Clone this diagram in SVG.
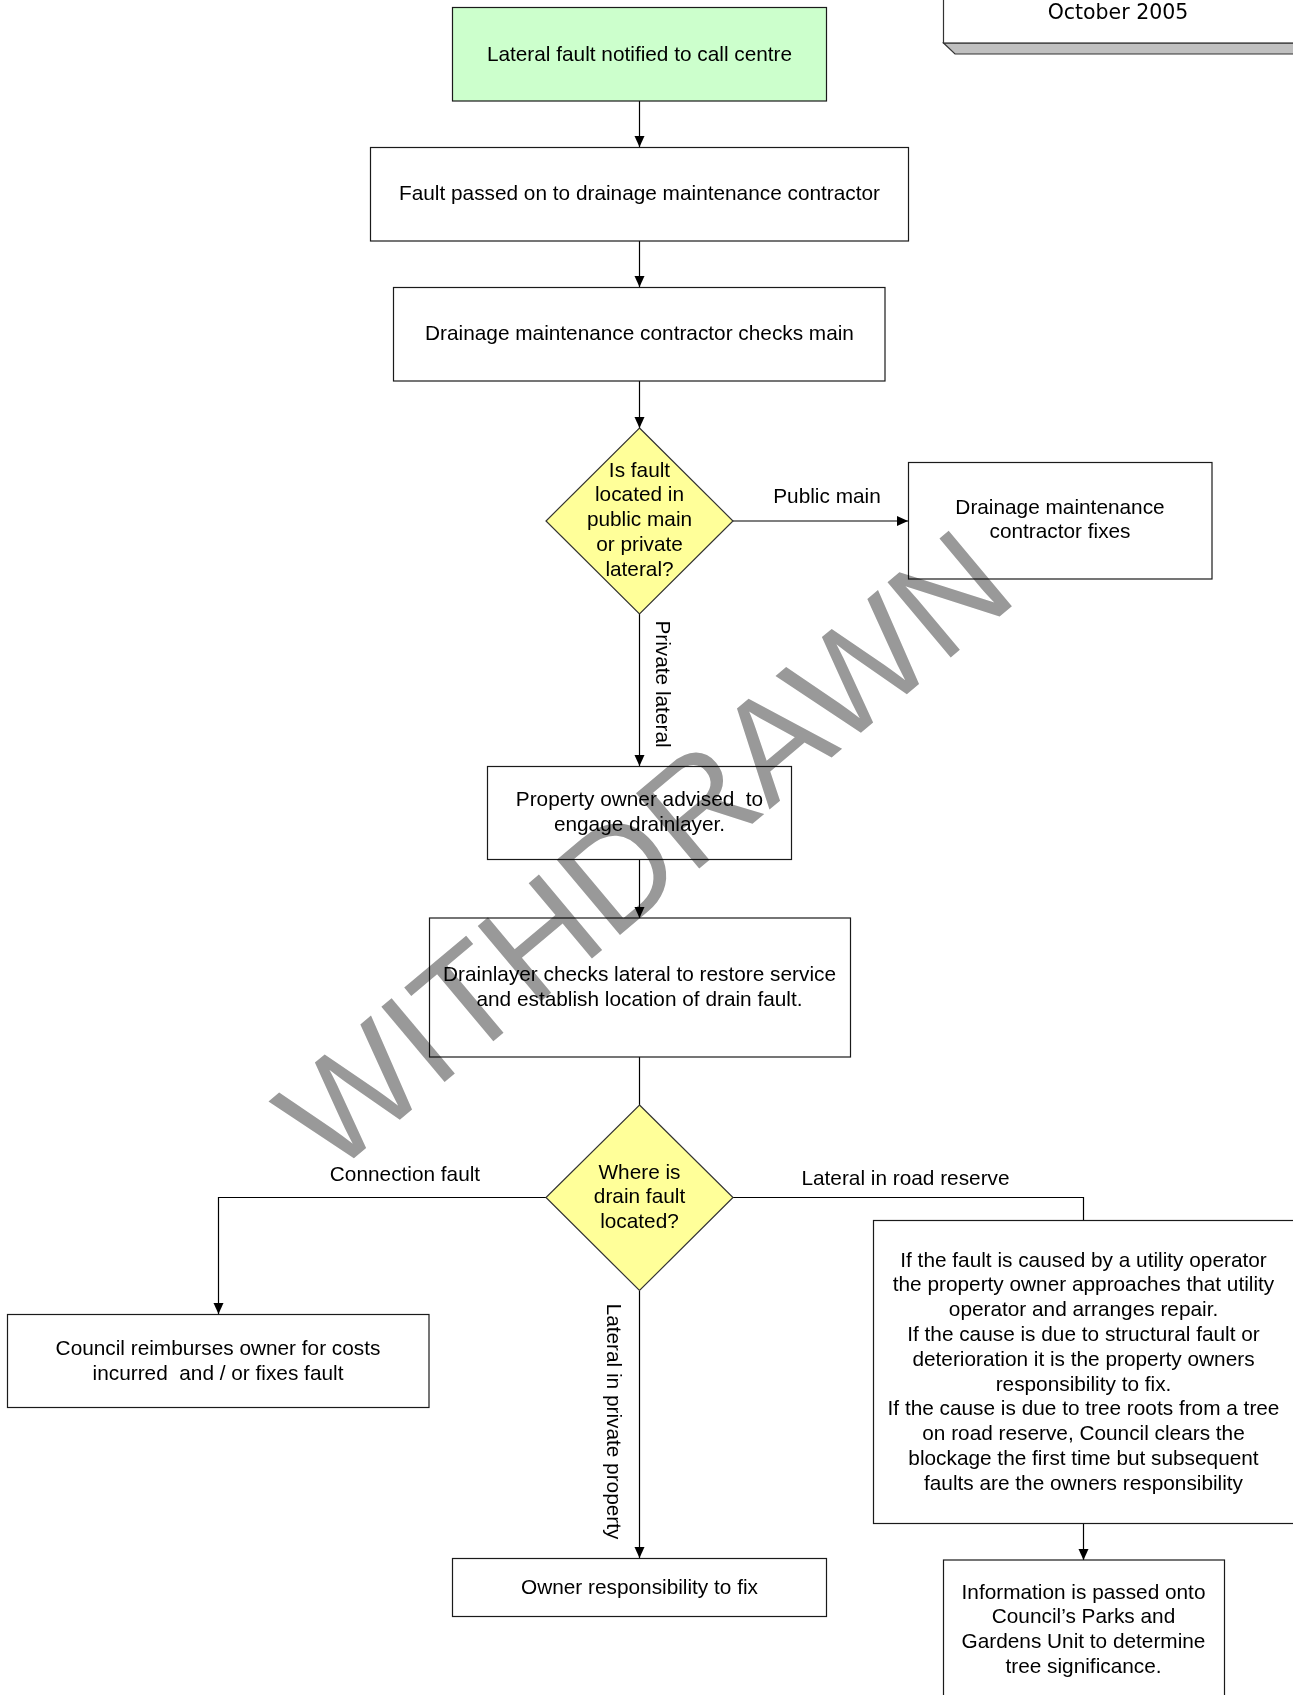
<svg xmlns="http://www.w3.org/2000/svg" width="1293" height="1695" viewBox="0 0 1293 1695">
<defs>
<marker id="arr" markerUnits="userSpaceOnUse" markerWidth="11" markerHeight="11" refX="11" refY="5.5" orient="auto">
<path d="M0,0.5 L11,5.5 L0,10.5 Z" fill="#000"/>
</marker>
<style>
.box{fill:#fff;stroke:#1a1a1a;stroke-width:1.2}
.start{fill:#ccffcc;stroke:#1a1a1a;stroke-width:1.2}
.dec{fill:#ffff99;stroke:#333;stroke-width:1.2}
.t{font-family:"Liberation Sans",Arial,sans-serif;font-size:20.8px;fill:#000;text-anchor:middle;white-space:pre}
.c{fill:none;stroke:#000;stroke-width:1.2}
.a{marker-end:url(#arr)}
.wm{font-family:"Liberation Sans",Arial,sans-serif;font-size:143px;fill:#999;text-anchor:middle;mix-blend-mode:multiply}
</style>
</defs>
<rect width="1293" height="1695" fill="#fff"/>

<g id="date">
<polygon points="943.5,43 955,54 1300,54 1300,43" fill="#c0c0c0" stroke="#333" stroke-width="1.2"/>
<rect x="943.5" y="-10" width="400" height="53" fill="#fff" stroke="#333" stroke-width="1.2"/>
<text x="1118" y="18.5" style="font-family:'DejaVu Sans',sans-serif;font-size:20.5px;text-anchor:middle;fill:#000">October 2005</text>
</g>

<g id="connectors">
<line class="c a" x1="639.5" y1="101" x2="639.5" y2="147"/>
<line class="c a" x1="639.5" y1="241" x2="639.5" y2="287"/>
<line class="c a" x1="639.5" y1="381" x2="639.5" y2="428"/>
<line class="c a" x1="733" y1="521" x2="908" y2="521"/>
<line class="c a" x1="639.5" y1="614" x2="639.5" y2="766"/>
<line class="c a" x1="639.5" y1="860" x2="639.5" y2="918"/>
<line class="c" x1="639.5" y1="1057" x2="639.5" y2="1105"/>
<polyline class="c a" points="546,1197.5 218.5,1197.5 218.5,1314"/>
<polyline class="c" points="733,1197.5 1083.5,1197.5 1083.5,1220.5"/>
<line class="c a" x1="639.5" y1="1291" x2="639.5" y2="1558"/>
<line class="c a" x1="1083.5" y1="1524" x2="1083.5" y2="1560"/>
<text class="t" x="827" y="503">Public main</text>
<text class="t" transform="translate(656,684) rotate(90)" x="0" y="0">Private lateral</text>
<text class="t" x="405" y="1180.5">Connection fault</text>
<text class="t" x="905.5" y="1185">Lateral in road reserve</text>
<text class="t" transform="translate(607,1421.5) rotate(90)" x="0" y="0">Lateral in private property</text>
</g>

<g id="n1">
<rect class="start" x="452.5" y="7.5" width="374" height="93.5"/>
<text class="t" x="639.5" y="61">Lateral fault notified to call centre</text>
</g>

<g id="n2">
<rect class="box" x="370.5" y="147.5" width="538" height="93.5"/>
<text class="t" x="639.5" y="200">Fault passed on to drainage maintenance contractor</text>
</g>

<g id="n3">
<rect class="box" x="393.5" y="287.5" width="491.5" height="93.5"/>
<text class="t" x="639.5" y="340">Drainage maintenance contractor checks main</text>
</g>

<g id="d1">
<polygon class="dec" points="639.5,428 733,521 639.5,614 546,521"/>
<text class="t" x="639.5" y="476.5">Is fault</text>
<text class="t" x="639.5" y="501.3">located in</text>
<text class="t" x="639.5" y="526.1">public main</text>
<text class="t" x="639.5" y="550.9">or private</text>
<text class="t" x="639.5" y="575.7">lateral?</text>
</g>

<g id="n4">
<rect class="box" x="908.5" y="462.5" width="303.5" height="116.5"/>
<text class="t" x="1060" y="513.5">Drainage maintenance</text>
<text class="t" x="1060" y="538.3">contractor fixes</text>
</g>

<g id="n5">
<rect class="box" x="487.5" y="766.5" width="304" height="93"/>
<text class="t" x="639.5" y="805.7">Property owner advised  to</text>
<text class="t" x="639.5" y="830.5">engage drainlayer.</text>
</g>

<g id="n6">
<rect class="box" x="429.5" y="918" width="421" height="139"/>
<text class="t" x="639.5" y="981">Drainlayer checks lateral to restore service</text>
<text class="t" x="639.5" y="1006">and establish location of drain fault.</text>
</g>

<g id="d2">
<polygon class="dec" points="639.5,1105 733,1197.5 639.5,1290.5 546,1197.5"/>
<text class="t" x="639.5" y="1178.5">Where is</text>
<text class="t" x="639.5" y="1203">drain fault</text>
<text class="t" x="639.5" y="1227.5">located?</text>
</g>

<g id="n7">
<rect class="box" x="7.5" y="1314.5" width="421.5" height="93"/>
<text class="t" x="218" y="1355">Council reimburses owner for costs</text>
<text class="t" x="218" y="1379.5">incurred  and / or fixes fault</text>
</g>

<g id="n8">
<rect class="box" x="873.5" y="1220.5" width="440" height="303"/>
<text class="t" x="1083.5" y="1266.5">If the fault is caused by a utility operator</text>
<text class="t" x="1083.5" y="1291.3">the property owner approaches that utility</text>
<text class="t" x="1083.5" y="1316.1">operator and arranges repair.</text>
<text class="t" x="1083.5" y="1340.9">If the cause is due to structural fault or</text>
<text class="t" x="1083.5" y="1365.7">deterioration it is the property owners</text>
<text class="t" x="1083.5" y="1390.5">responsibility to fix.</text>
<text class="t" x="1083.5" y="1415.3">If the cause is due to tree roots from a tree</text>
<text class="t" x="1083.5" y="1440.1">on road reserve, Council clears the</text>
<text class="t" x="1083.5" y="1464.9">blockage the first time but subsequent</text>
<text class="t" x="1083.5" y="1489.7">faults are the owners responsibility</text>
</g>

<g id="n9">
<rect class="box" x="452.5" y="1558.5" width="374" height="58"/>
<text class="t" x="639.5" y="1594">Owner responsibility to fix</text>
</g>

<g id="n10">
<rect class="box" x="943.5" y="1560" width="281" height="150"/>
<text class="t" x="1083.5" y="1598.5">Information is passed onto</text>
<text class="t" x="1083.5" y="1623.3">Council’s Parks and</text>
<text class="t" x="1083.5" y="1648">Gardens Unit to determine</text>
<text class="t" x="1083.5" y="1672.8">tree significance.</text>
</g>

<g id="watermark">
<text class="wm" transform="translate(676,888) rotate(-40)" x="0" y="0">WITHDRAWN</text>
</g>
</svg>
